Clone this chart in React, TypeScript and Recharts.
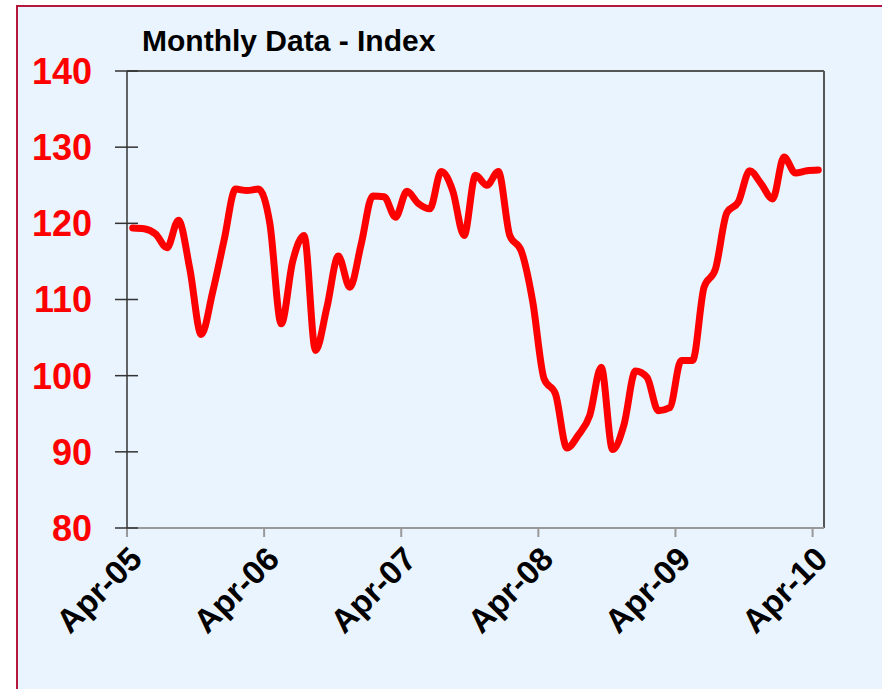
import React from "react"
import { LineChart, Line, XAxis, YAxis, ReferenceLine } from "recharts"

// monthly index, Apr-05 .. Apr-10
const indexValues = [
  119.4, 119.3, 118.6, 116.8, 120.4, 114.0, 105.4, 111.0, 117.8, 124.5, 124.3, 124.5,
  120.0, 106.8, 115.0, 118.4, 103.3, 109.0, 115.7, 111.6, 117.3, 123.6, 123.5, 120.8,
  124.2, 122.6, 121.9, 126.8, 124.3, 118.4, 126.3, 125.0, 126.8, 118.4, 116.4, 109.8,
  99.6, 97.6, 90.5, 92.2, 94.8, 101.1, 90.3, 93.6, 100.6, 99.8, 95.4, 95.8,
  102.0, 102.0, 111.6, 114.0, 121.4, 122.8, 126.9, 125.2, 123.2, 128.7, 126.6, 126.9,
  127.0,
]
const tickMonths = [0, 12, 24, 36, 48, 60]
const tickLabels = ["Apr-05", "Apr-06", "Apr-07", "Apr-08", "Apr-09", "Apr-10"]
const yTicks = [80, 90, 100, 110, 120, 130, 140]

// each point sits in the middle of its month
const data = indexValues.map((v, i) => ({ month: i + 0.5, value: v }))

const font = "Arial, 'Liberation Sans', sans-serif"

const YTick = (props: any) => {
  const { x, y, payload } = props
  return (
    <g>
      <line x1={x + 23} x2={x + 46} y1={y} y2={y} stroke="#333" strokeWidth={1.5} />
      <text
        x={x}
        y={y}
        dy="0.36em"
        textAnchor="end"
        fill="#FF0000"
        fontSize={36}
        fontWeight="bold"
        fontFamily={font}
      >
        {payload.value}
      </text>
    </g>
  )
}

const XTick = (props: any) => {
  const { x, y, payload } = props
  return (
    <g transform={`translate(${x + 17},${y + 22})`}>
      <text
        x={0}
        y={0}
        textAnchor="end"
        transform="rotate(-45)"
        fill="#000"
        fontSize={33}
        fontWeight="bold"
        fontFamily={font}
      >
        {tickLabels[tickMonths.indexOf(payload.value)]}
      </text>
    </g>
  )
}

export default function App() {
  return (
    <div
      style={{
        position: "absolute",
        left: 16,
        top: 5,
        width: 866,
        height: 684,
        boxSizing: "border-box",
        borderLeft: "2px solid #B5173D",
        borderTop: "2px solid #B5173D",
        background: "#EAF4FE",
      }}
    >
      <div
        style={{
          position: "absolute",
          left: 124,
          top: 19,
          fontFamily: font,
          fontSize: 30,
          fontWeight: "bold",
          lineHeight: 1,
          color: "#000",
          whiteSpace: "nowrap",
        }}
      >
        Monthly Data - Index
      </div>
      <LineChart
        width={864}
        height={682}
        data={data}
        margin={{ top: 64, right: 58, bottom: 41, left: 0 }}
      >
        <XAxis
          dataKey="month"
          type="number"
          domain={[0, 61]}
          ticks={tickMonths}
          interval={0}
          height={120}
          stroke="#999"
          strokeWidth={2}
          tickSize={9}
          tickMargin={2}
          tick={<XTick />}
        />
        <YAxis
          type="number"
          domain={[80, 140]}
          ticks={yTicks}
          interval={0}
          width={109}
          stroke="#333"
          strokeWidth={1.5}
          tickSize={12}
          tickMargin={23}
          tickLine={false}
          tick={<YTick />}
        />
        <ReferenceLine y={140} stroke="#555" strokeWidth={2} />
        <ReferenceLine x={61} stroke="#555" strokeWidth={2} />
        <Line
          type="monotone"
          dataKey="value"
          stroke="#FF0000"
          strokeWidth={7}
          strokeLinecap="round"
          strokeLinejoin="round"
          dot={false}
          activeDot={false}
          isAnimationActive={false}
        />
      </LineChart>
    </div>
  )
}
